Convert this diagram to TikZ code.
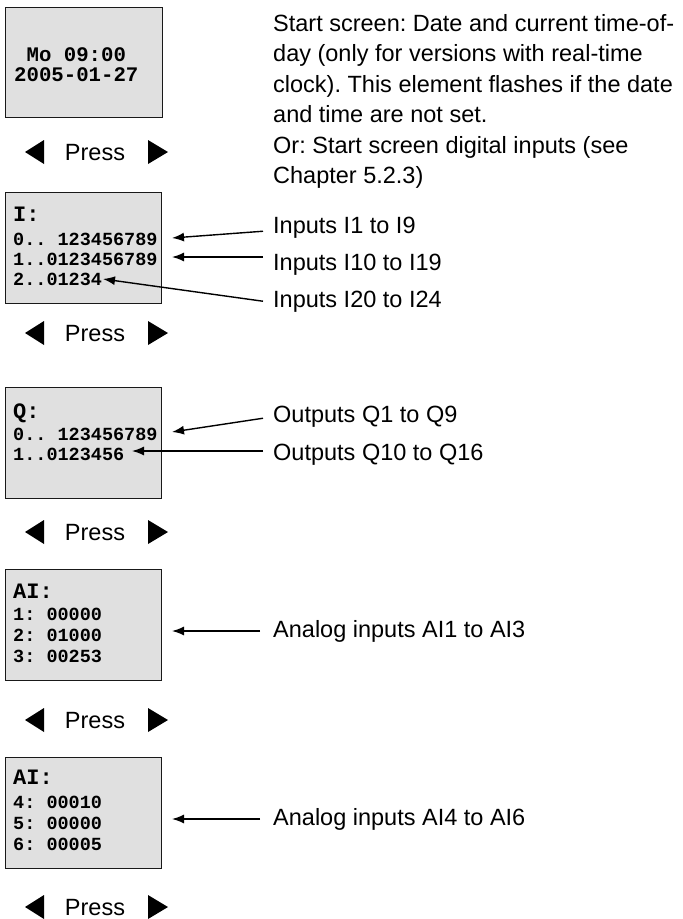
\documentclass[tikz,border=0pt]{standalone}
\usepackage{fontspec}
\setmainfont{Liberation Sans}
\newfontfamily\lcdfont{Liberation Mono}
\usetikzlibrary{arrows.meta}
\frenchspacing
\begin{document}
\begin{tikzpicture}[x=1pt,y=-1pt,
  screen/.style={draw=black!90, fill=black!12, line width=0.9pt, anchor=north west,
    minimum width=156pt, minimum height=111pt, inner sep=0pt},
  hdr/.style={anchor=base west, inner sep=0pt, font=\lcdfont\bfseries\fontsize{22}{22}\selectfont},
  row/.style={anchor=base west, inner sep=0pt, font=\lcdfont\bfseries\fontsize{18.5}{18.5}\selectfont},
  big/.style={anchor=base west, inner sep=0pt, font=\lcdfont\bfseries\fontsize{20.7}{20.7}\selectfont},
  lab/.style={anchor=base west, inner sep=0pt, font=\fontsize{23.5}{23.5}\selectfont},
  presstxt/.style={anchor=base, inner sep=0pt, font=\fontsize{23.5}{23.5}\selectfont},
  ptr/.style={line width=1.4pt, -{Latex[length=12pt,width=9pt]}},
  tri/.style={fill=black}
]
\useasboundingbox (0,0) rectangle (683,919);

% Screen 1
\node[screen, minimum width=157pt, minimum height=110pt] (s1) at (5,7) {};
\node[big] (s1a) at (14,61) {\ Mo 09:00};
\node[big] (s1b) at (14,81) {2005-01-27};

% Screen 2
\node[screen] (s2) at (5,192) {};
\node[hdr] (s2h) at (13,221) {I:};
\node[row] (s2a) at (13,245.5) {0..\ 123456789};
\node[row] (s2b) at (13,265.5) {1..0123456789};
\node[row] (s2c) at (13,285.5) {2..01234};

% Screen 3
\node[screen] (s3) at (5,387) {};
\node[hdr] (s3h) at (13,418) {Q:};
\node[row] (s3a) at (13,440.5) {0..\ 123456789};
\node[row] (s3b) at (13,460.5) {1..0123456};

% Screen 4
\node[screen] (s4) at (5,569) {};
\node[hdr] (s4h) at (13,598) {AI:};
\node[row] (s4a) at (13,620.5) {1:\ 00000};
\node[row] (s4b) at (13,641.5) {2:\ 01000};
\node[row] (s4c) at (13,662.5) {3:\ 00253};

% Screen 5
\node[screen] (s5) at (5,757) {};
\node[hdr] (s5h) at (13,784) {AI:};
\node[row] (s5a) at (13,808.5) {4:\ 00010};
\node[row] (s5b) at (13,829.5) {5:\ 00000};
\node[row] (s5c) at (13,850.5) {6:\ 00005};

% Description
\node[anchor=north west, inner sep=0pt, align=left,
  font=\fontsize{23.5}{30.5}\selectfont] (desc) at (273,14)
  {Start screen: Date and current time-of-\\
   day (only for versions with real-time\\
   clock). This element flashes if the date\\
   and time are not set.\\
   Or: Start screen digital inputs (see\\
   Chapter 5.2.3)};

% Labels
\node[lab] (li1) at (273,233) {Inputs I1 to I9};
\node[lab] (li2) at (273,270) {Inputs I10 to I19};
\node[lab] (li3) at (273,307) {Inputs I20 to I24};
\node[lab] (lq1) at (273,422) {Outputs Q1 to Q9};
\node[lab] (lq2) at (273,460) {Outputs Q10 to Q16};
\node[lab] (la1) at (273,637) {Analog inputs AI1 to AI3};
\node[lab] (la2) at (273,825) {Analog inputs AI4 to AI6};

% Arrow tips
\coordinate (ti1) at (172,238);
\coordinate (ti2) at (172,257);
\coordinate (ti3) at (103,279);
\coordinate (tq1) at (172,432);
\coordinate (tq2) at (132,451);
\coordinate (ta1) at (172,631);
\coordinate (ta2) at (172,819);

\draw[ptr] ([xshift=-10pt,yshift=-4pt]li1.west) -- (ti1);
\draw[ptr] ([xshift=-10pt]li2.west |- ti2) -- (ti2);
\draw[ptr] ([xshift=-10pt]li3.west) -- (ti3);
\draw[ptr] ([xshift=-10pt,yshift=-2pt]lq1.west) -- (tq1);
\draw[ptr] ([xshift=-10pt]lq2.west |- tq2) -- (tq2);
\draw[ptr] ([xshift=-13pt]la1.west |- ta1) -- (ta1);
\draw[ptr] ([xshift=-13pt]la2.west |- ta2) -- (ta2);

% Press rows
\foreach \y/\n in {152/1,333/2,532/3,720/4,907/5}{
  \fill[tri] (25,\y) -- (44,\y-12) -- (44,\y+12) -- cycle;
  \fill[tri] (168,\y) -- (148,\y-12) -- (148,\y+12) -- cycle;
  \node[presstxt] (press\n) at (95,\y+8.5) {Press};
}
\end{tikzpicture}
\end{document}
